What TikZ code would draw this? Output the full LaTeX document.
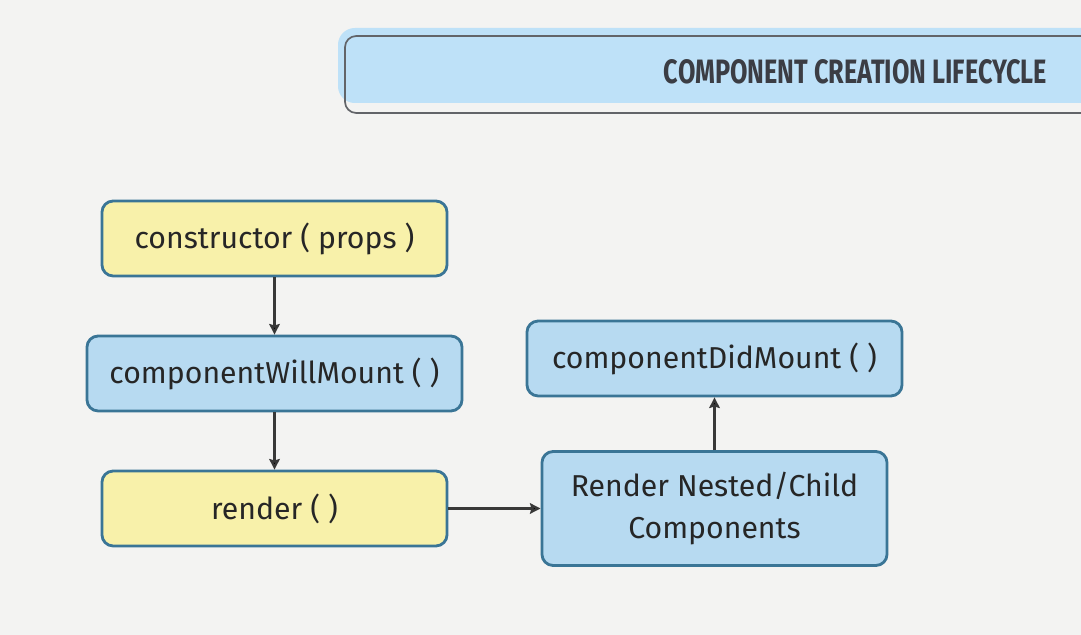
\documentclass[tikz,border=0pt]{standalone}
\usepackage{fontspec}
\setmainfont{Fira Sans}
\usetikzlibrary{arrows.meta}
\definecolor{bgpaper}{HTML}{F3F3F2}
\definecolor{boxedge}{HTML}{3A7596}
\definecolor{boxblue}{HTML}{B7DAF1}
\definecolor{boxyellow}{HTML}{F8F1AA}
\definecolor{titleblue}{HTML}{BEE1F8}
\definecolor{inkgray}{HTML}{3B3D44}
\begin{document}
\begin{tikzpicture}[x=0.025cm,y=-0.025cm,
  life node/.style={rectangle,rounded corners=8pt,draw=boxedge,line width=2pt,
    font=\fontsize{21.5}{27}\selectfont,text=black!85,align=center,inner sep=0pt},
  blue node/.style={life node,fill=boxblue},
  yellow node/.style={life node,fill=boxyellow},
  flow/.style={draw=black!78,line width=1.6pt,-{Stealth[length=7.5pt,width=7.5pt,inset=1pt]}}]

  \clip (0,0) rectangle (1081,635);
  \fill[bgpaper] (0,0) rectangle (1081,635);

  % title banner
  \fill[titleblue,rounded corners=12pt] (338,28) rectangle (1120,103);
  \draw[inkgray!80,line width=1.2pt,rounded corners=8pt] (1120,36) -- (345,36) -- (345,113) -- (1120,113);
  \node[text=inkgray,inner sep=0pt] (title) at (855.5,72)
    {\resizebox{9.575cm}{0.6cm}{\bfseries COMPONENT CREATION LIFECYCLE}};

  \node[yellow node,minimum width=8.625cm,minimum height=1.875cm] (ctor) at (274.5,238.5){constructor ( props )};
  \node[blue node,minimum width=9.375cm,minimum height=1.875cm] (will) at (274.5,373.5){componentWillMount ( )};
  \node[yellow node,minimum width=8.625cm,minimum height=1.875cm] (render) at (274.5,508.5){render ( )};
  \node[blue node,minimum width=8.625cm,minimum height=2.85cm] (nested) at (714.5,508.5){Render Nested/Child\\[3pt]Components};
  \node[blue node,minimum width=9.375cm,minimum height=1.875cm] (did) at (714.5,358.5){componentDidMount ( )};

  \path[flow]
    (ctor) edge (will)
    (will) edge (render)
    (render) edge (nested)
    (nested) edge (did);
\end{tikzpicture}
\end{document}
